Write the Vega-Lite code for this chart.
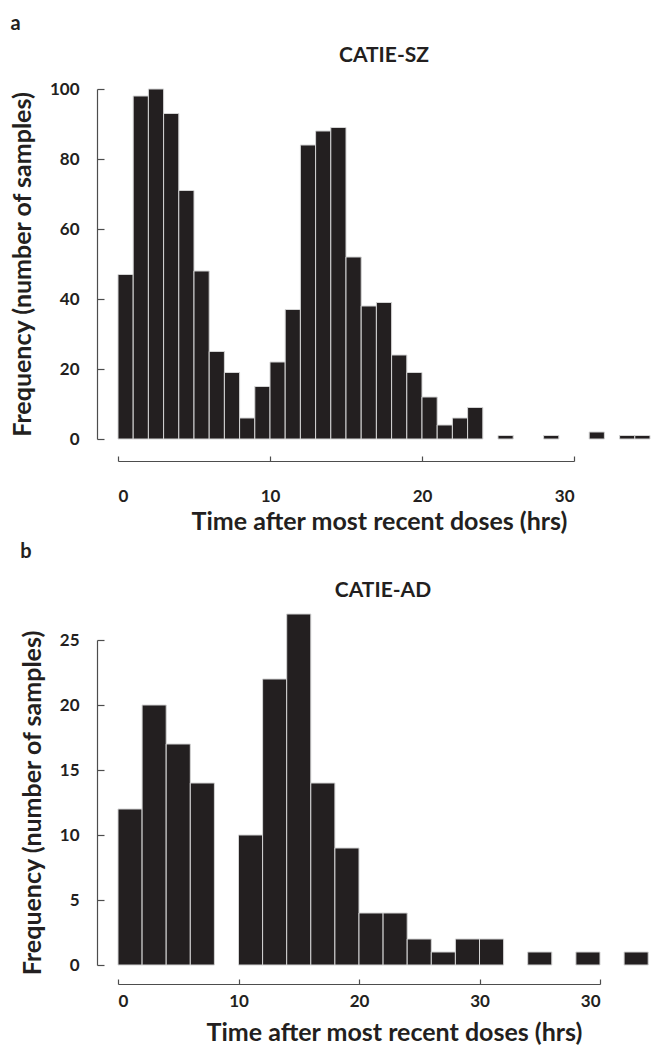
{
  "$schema": "https://vega.github.io/schema/vega-lite/v6.json",
  "padding": {"left": 10, "top": 14, "right": 0, "bottom": 0},
  "config": {
    "view": {"stroke": null},
    "font": "Lato",
    "axis": {
      "grid": false,
      "domainColor": "#4d4d4d",
      "tickColor": "#4d4d4d",
      "domainWidth": 1.2,
      "tickWidth": 1.2,
      "labelColor": "#231f20",
      "titleColor": "#231f20",
      "labelFont": "Lato",
      "titleFont": "Lato",
      "labelFontWeight": "bold",
      "titleFontWeight": "bold",
      "labelFontSize": 17,
      "titleFontSize": 25
    },
    "title": {"font": "Lato", "fontWeight": "bold", "color": "#231f20"}
  },
  "datasets": {
    "sz": [
      {"start": 0, "end": 1, "count": 47},
      {"start": 1, "end": 2, "count": 98},
      {"start": 2, "end": 3, "count": 100},
      {"start": 3, "end": 4, "count": 93},
      {"start": 4, "end": 5, "count": 71},
      {"start": 5, "end": 6, "count": 48},
      {"start": 6, "end": 7, "count": 25},
      {"start": 7, "end": 8, "count": 19},
      {"start": 8, "end": 9, "count": 6},
      {"start": 9, "end": 10, "count": 15},
      {"start": 10, "end": 11, "count": 22},
      {"start": 11, "end": 12, "count": 37},
      {"start": 12, "end": 13, "count": 84},
      {"start": 13, "end": 14, "count": 88},
      {"start": 14, "end": 15, "count": 89},
      {"start": 15, "end": 16, "count": 52},
      {"start": 16, "end": 17, "count": 38},
      {"start": 17, "end": 18, "count": 39},
      {"start": 18, "end": 19, "count": 24},
      {"start": 19, "end": 20, "count": 19},
      {"start": 20, "end": 21, "count": 12},
      {"start": 21, "end": 22, "count": 4},
      {"start": 22, "end": 23, "count": 6},
      {"start": 23, "end": 24, "count": 9},
      {"start": 25, "end": 26, "count": 1},
      {"start": 28, "end": 29, "count": 1},
      {"start": 31, "end": 32, "count": 2},
      {"start": 33, "end": 34, "count": 1},
      {"start": 34, "end": 35, "count": 1}
    ],
    "ad": [
      {"start": 0, "end": 2, "count": 12},
      {"start": 2, "end": 4, "count": 20},
      {"start": 4, "end": 6, "count": 17},
      {"start": 6, "end": 8, "count": 14},
      {"start": 10, "end": 12, "count": 10},
      {"start": 12, "end": 14, "count": 22},
      {"start": 14, "end": 16, "count": 27},
      {"start": 16, "end": 18, "count": 14},
      {"start": 18, "end": 20, "count": 9},
      {"start": 20, "end": 22, "count": 4},
      {"start": 22, "end": 24, "count": 4},
      {"start": 24, "end": 26, "count": 2},
      {"start": 26, "end": 28, "count": 1},
      {"start": 28, "end": 30, "count": 2},
      {"start": 30, "end": 32, "count": 2},
      {"start": 34, "end": 36, "count": 1},
      {"start": 38, "end": 40, "count": 1},
      {"start": 42, "end": 44, "count": 1}
    ]
  },
  "spacing": 7,
  "vconcat": [
    {
      "title": {"text": "a", "anchor": "start", "frame": "bounds", "fontSize": 20, "offset": 11},
      "vconcat": [
        {
          "title": {"text": "CATIE-SZ", "anchor": "middle", "frame": "group", "fontSize": 21, "dx": 38, "offset": 14},
          "width": 456,
          "height": 350,
          "data": {"name": "sz"},
          "mark": {"type": "bar", "fill": "#231f20", "stroke": "#d4d4d4", "strokeWidth": 1, "clip": false},
          "encoding": {
            "x": {
              "field": "start", "type": "quantitative",
              "scale": {"domain": [0, 30], "nice": false, "zero": false},
              "axis": {"title": "Time after most recent doses (hrs)", "values": [0, 10, 20, 30], "offset": 22, "tickSize": -5, "labelPadding": 32, "titlePadding": 5, "titleX": 261, "format": "d"}
            },
            "x2": {"field": "end"},
            "y": {
              "field": "count", "type": "quantitative",
              "scale": {"domain": [0, 100], "nice": false},
              "axis": {"title": "Frequency (number of samples)", "values": [0, 20, 40, 60, 80, 100], "offset": 21, "tickSize": -7, "labelPadding": 25, "titlePadding": 14, "format": "d"}
            },
            "y2": {"datum": 0}
          }
        }
      ]
    },
    {
      "title": {"text": "b", "anchor": "start", "frame": "bounds", "fontSize": 20, "offset": 18},
      "vconcat": [
        {
          "title": {"text": "CATIE-AD", "anchor": "middle", "frame": "group", "fontSize": 21, "dx": 24, "offset": 13},
          "width": 482,
          "height": 325,
          "data": {"name": "ad"},
          "mark": {"type": "bar", "fill": "#231f20", "stroke": "#d4d4d4", "strokeWidth": 1, "clip": false},
          "encoding": {
            "x": {
              "field": "start", "type": "quantitative",
              "scale": {"domain": [0, 40], "nice": false, "zero": false},
              "axis": {"title": "Time after most recent doses (hrs)", "values": [0, 10, 20, 30, 40], "offset": 19, "tickSize": -5, "labelPadding": 14, "titlePadding": 11, "titleX": 276, "format": "d", "labelExpr": "datum.value == 40 ? '30' : datum.label"}
            },
            "x2": {"field": "end"},
            "y": {
              "field": "count", "type": "quantitative",
              "scale": {"domain": [0, 25], "nice": false},
              "axis": {"title": "Frequency (number of samples)", "values": [0, 5, 10, 15, 20, 25], "offset": 21, "tickSize": -7, "labelPadding": 25, "titlePadding": 14, "format": "d"}
            },
            "y2": {"datum": 0}
          }
        }
      ]
    }
  ]
}
